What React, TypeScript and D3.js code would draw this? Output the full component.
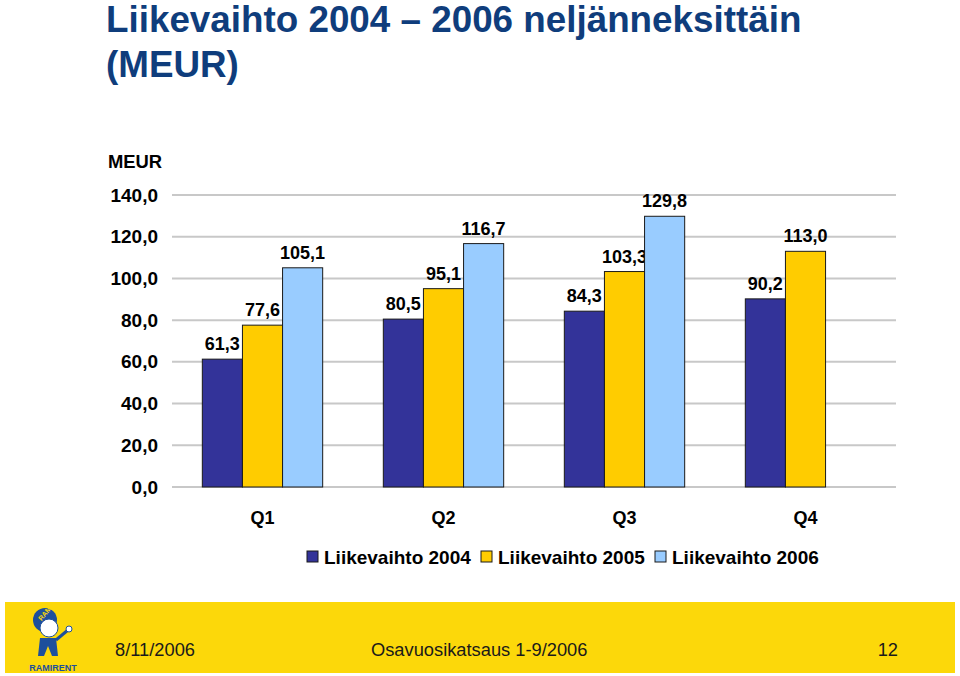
import React from "react";
import * as d3 from "d3";

const categories = ["Q1", "Q2", "Q3", "Q4"];
const seriesNames = ["Liikevaihto 2004", "Liikevaihto 2005", "Liikevaihto 2006"];
const values2004 = [61.3, 80.5, 84.3, 90.2];
const values2005 = [77.6, 95.1, 103.3, 113.0];
const values2006: (number | null)[] = [105.1, 116.7, 129.8, null];
const yTicks = [0, 20, 40, 60, 80, 100, 120, 140];
const colors = ["#333399", "#FFCC00", "#99CCFF"];

const W = 960;
const H = 676;
const plot = { left: 172, right: 896, top: 195, bottom: 487 };

export default function App() {
  const series = [values2004, values2005, values2006];
  const fmt = (v: number) => v.toFixed(1).replace(".", ",");
  const x0 = d3.scaleBand<string>().domain(categories).range([plot.left, plot.right]).paddingInner(0.335).paddingOuter(0.1675);
  const x1 = d3.scaleBand<string>().domain(seriesNames).range([0, x0.bandwidth()]);
  const y = d3.scaleLinear().domain([0, 140]).range([plot.bottom, plot.top]);
  const font = "Arial, 'Liberation Sans', Helvetica, sans-serif";

  const legendItems = [
    { x: 307, name: seriesNames[0], c: colors[0] },
    { x: 481, name: seriesNames[1], c: colors[1] },
    { x: 655, name: seriesNames[2], c: colors[2] },
  ];

  return (
    <svg width={W} height={H} style={{ position: "absolute", left: 0, top: 0, background: "#fff" }} fontFamily={font}>
      <text x={106} y={32} fontSize={36.8} fontWeight="bold" fill="#0f3d7c">Liikevaihto 2004 – 2006 neljänneksittäin</text>
      <text x={106} y={77} fontSize={36.8} fontWeight="bold" fill="#0f3d7c">(MEUR)</text>

      <text x={108} y={168} fontSize={18.4} fontWeight="bold" fill="#000">MEUR</text>

      {yTicks.map((t) => (
        <g key={t}>
          <line x1={plot.left} x2={plot.right} y1={y(t)} y2={y(t)} stroke="#c8c8c8" strokeWidth={2} />
          <text x={158} y={y(t) + 6.5} textAnchor="end" fontSize={19} fontWeight="bold" fill="#000">{fmt(t)}</text>
        </g>
      ))}

      {categories.map((cat, ci) => (
        <g key={cat} transform={`translate(${x0(cat)},0)`}>
          {series.map((s, si) => {
            const v = s[ci];
            if (v == null) return null;
            const bx = x1(seriesNames[si])!;
            const bw = x1.bandwidth();
            return (
              <g key={si}>
                <rect x={bx} y={y(v)} width={bw} height={y(0) - y(v)} fill={colors[si]} stroke="#1a1a1a" strokeWidth={1} />
                <text x={bx + bw / 2} y={y(v) - 9} textAnchor="middle" fontSize={18} fontWeight="bold" fill="#000">{fmt(v)}</text>
              </g>
            );
          })}
          <text x={x0.bandwidth() / 2} y={524} textAnchor="middle" fontSize={18} fontWeight="bold" fill="#000">{cat}</text>
        </g>
      ))}

      {legendItems.map((it) => (
        <g key={it.name}>
          <rect x={it.x} y={551} width={11} height={11} fill={it.c} stroke="#1a1a1a" strokeWidth={1} />
          <text x={it.x + 17} y={564} fontSize={19} fontWeight="bold" fill="#000">{it.name}</text>
        </g>
      ))}

      <rect x={5} y={602} width={950} height={71} fill="#FCD80A" />
      <g>
        <circle cx={45} cy={620} r={12} fill="#1d4f9c" />
        <circle cx={49} cy={628} r={9} fill="#ffffff" stroke="#1d4f9c" strokeWidth={1} />
        <text x={40} y={622} fontSize={7} fontWeight="bold" fill="#FCD80A" transform="rotate(-50 40 620)">RAMI</text>
        <path d="M40 638 L56 638 L58 656 L52 656 L48 646 L44 656 L38 656 Z" fill="#1d4f9c" />
        <path d="M56 640 L68 630" stroke="#1d4f9c" strokeWidth={3} />
        <circle cx={69} cy={629} r={3} fill="#ffffff" stroke="#1d4f9c" strokeWidth={1} />
        <text x={53} y={671} textAnchor="middle" fontSize={9} fontWeight="bold" fill="#1d4f9c">RAMIRENT</text>
      </g>
      <text x={115} y={656} fontSize={18.3} fill="#1a1a1a">8/11/2006</text>
      <text x={371} y={656} fontSize={18.3} fill="#1a1a1a">Osavuosikatsaus 1-9/2006</text>
      <text x={898} y={656} textAnchor="end" fontSize={18.3} fill="#1a1a1a">12</text>
    </svg>
  );
}
